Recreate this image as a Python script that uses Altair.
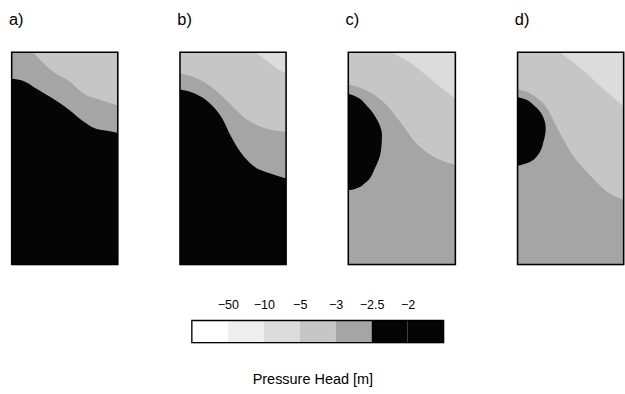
import json

import altair as alt
import pandas as pd

# Pressure-head classes (metres) and their fills, lightest (driest) to darkest (wettest)
CLASS_NAMES = ["< -50", "-50 to -10", "-10 to -5", "-5 to -3", "-3 to -2.5", "-2.5 to -2", "> -2"]
CLASS_COLORS = ["#ffffff", "#efefef", "#dcdcdc", "#c6c6c6", "#a5a5a5", "#050505", "#050505"]
BREAK_LABELS = ["\u221250", "\u221210", "\u22125", "\u22123", "\u22122.5", "\u22122"]

PANEL_TITLES = ["a)", "b)", "c)", "d)"]
DOMAIN_W = 10.0   # horizontal extent of the flow domain
DOMAIN_D = 20.0   # depth of the flow domain

# --- a) class boundaries: depth of each boundary along x
A_WET_X = [0, 1.1, 2.3, 3.8, 5.4, 6.6, 7.7, 9.0, 10]
A_WET_Z = [2.5, 2.7, 3.4, 4.3, 5.4, 6.4, 7.1, 7.4, 7.6]
A_MID_X = [2.0, 3.8, 5.4, 6.8, 8.4, 10]
A_MID_Z = [0, 1.75, 2.7, 3.9, 4.5, 5.0]

# --- b)
B_WET_X = [0, 1.45, 2.7, 3.9, 4.8, 5.7, 6.9, 8.45, 10]
B_WET_Z = [3.5, 3.9, 4.7, 6.1, 7.9, 9.4, 10.7, 11.4, 11.9]
B_MID_X = [0, 1.45, 3.0, 4.55, 6.0, 7.55, 10]
B_MID_Z = [2.0, 2.4, 3.3, 4.7, 6.1, 7.0, 7.5]
B_DRY_X = [7.1, 8.2, 9.1, 10]
B_DRY_Z = [0, 0.8, 1.5, 2.0]

# --- c)
C_MID_X = [0, 1.7, 3.25, 4.8, 6.2, 7.75, 10]
C_MID_Z = [3.0, 3.6, 4.65, 6.5, 8.4, 9.7, 10.6]
C_DRY_X = [4.0, 5.95, 7.9, 10]
C_DRY_Z = [0, 1.1, 2.7, 4.4]
C_BULB_Z = [3.9, 4.1, 5.0, 6.2, 7.8, 9.3, 10.9, 12.3, 12.9, 13.0]
C_BULB_X = [0, 0.55, 1.7, 2.6, 3.15, 3.05, 2.5, 1.6, 0.55, 0]

# --- d)
D_MID_X = [0, 1.55, 2.8, 3.75, 5.2, 6.75, 8.25, 10]
D_MID_Z = [3.45, 4.1, 5.3, 7.15, 9.7, 11.5, 13.0, 13.9]
D_DRY_X = [4.0, 6.3, 8.1, 10]
D_DRY_Z = [0, 1.8, 3.45, 5.1]
D_BULB_Z = [4.2, 4.4, 5.0, 5.95, 7.15, 8.4, 9.7, 10.4, 10.7]
D_BULB_X = [0, 0.65, 1.55, 2.35, 2.65, 2.45, 1.9, 1.0, 0]

PANELS = [
    # (base class, [(class, xs, zs) zones from the surface down], bulb or None)
    (5, [(4, A_WET_X, A_WET_Z), (3, A_MID_X, A_MID_Z)], None),
    (5, [(4, B_WET_X, B_WET_Z), (3, B_MID_X, B_MID_Z), (2, B_DRY_X, B_DRY_Z)], None),
    (4, [(3, C_MID_X, C_MID_Z), (2, C_DRY_X, C_DRY_Z)], (5, C_BULB_X, C_BULB_Z)),
    (4, [(3, D_MID_X, D_MID_Z), (2, D_DRY_X, D_DRY_Z)], (5, D_BULB_X, D_BULB_Z)),
]
PANEL_WIDTHS = [110, 110, 111, 110]

scale_x = alt.Scale(domain=[0, DOMAIN_W], nice=False, zero=False)
scale_z = alt.Scale(domain=[0, DOMAIN_D], nice=False, reverse=True)
fill = alt.Color(
    "cls:N",
    scale=alt.Scale(domain=CLASS_NAMES, range=CLASS_COLORS),
    legend=None,
)


def panel(title, base, zones, bulb, width):
    base_df = pd.DataFrame(
        {"x0": [0.0], "x1": [DOMAIN_W], "z0": [0.0], "z1": [DOMAIN_D], "cls": [CLASS_NAMES[base]]}
    )
    extent = dict(
        x=alt.X("x0:Q", scale=scale_x, axis=None),
        x2="x1",
        y=alt.Y("z0:Q", scale=scale_z, axis=None),
        y2="z1",
    )
    layers = [alt.Chart(base_df).mark_rect().encode(color=fill, **extent)]
    for cls, xs, zs in zones:
        df = pd.DataFrame({"x": xs, "z": zs, "cls": CLASS_NAMES[cls]})
        layers.append(
            alt.Chart(df)
            .mark_area(interpolate="monotone")
            .encode(
                x=alt.X("x:Q", scale=scale_x, axis=None),
                y=alt.Y("z:Q", scale=scale_z, axis=None, stack=None),
                y2=alt.datum(0),
                color=fill,
            )
        )
    if bulb is not None:
        cls, xs, zs = bulb
        df = pd.DataFrame({"x": xs, "z": zs, "cls": CLASS_NAMES[cls]})
        layers.append(
            alt.Chart(df)
            .mark_area(orient="horizontal", interpolate="monotone")
            .encode(
                y=alt.Y("z:Q", scale=scale_z, axis=None),
                x=alt.X("x:Q", scale=scale_x, axis=None, stack=None),
                x2=alt.datum(0),
                color=fill,
            )
        )
    # frame around the domain
    layers.append(
        alt.Chart(base_df)
        .mark_rect(filled=False, stroke="black", strokeWidth=1.6)
        .encode(**extent)
    )
    return alt.layer(*layers).properties(
        width=width,
        height=220,
        title=alt.TitleParams(
            title, anchor="start", font="Liberation Sans", fontSize=17,
            fontWeight="normal", offset=24, dx=-2,
        ),
    )


row = alt.hconcat(
    *[panel(t, b, z, blb, w) for t, (b, z, blb), w in zip(PANEL_TITLES, PANELS, PANEL_WIDTHS)],
    spacing=58.5,
)

# horizontal class bar with the break values written above the boundaries
n = len(CLASS_NAMES)
bar_df = pd.DataFrame({"lo": list(range(n)), "hi": list(range(1, n + 1)), "cls": CLASS_NAMES})
frame_df = pd.DataFrame({"lo": [0], "hi": [n]})
label_expr = json.dumps(BREAK_LABELS) + "[datum.value - 1]"
bar_x = alt.X(
    "lo:Q",
    scale=alt.Scale(domain=[0, n], nice=False, zero=False),
    axis=alt.Axis(
        orient="top", values=list(range(1, n)), labelExpr=label_expr,
        ticks=False, domain=False, grid=False, title=None, labelFont="Liberation Sans",
        labelFontSize=13, labelColor="black", labelPadding=9, labelFlush=False,
    ),
)
colorbar = (
    alt.layer(
        alt.Chart(bar_df).mark_rect().encode(x=bar_x, x2="hi", color=fill),
        alt.Chart(frame_df)
        .mark_rect(filled=False, stroke="black", strokeWidth=1.4)
        .encode(x=alt.X("lo:Q", scale=alt.Scale(domain=[0, n], nice=False, zero=False)), x2="hi"),
    )
    .properties(
        width=261,
        height=23,
        title=alt.TitleParams(
            "Pressure Head  [m]", orient="bottom", font="Liberation Sans", fontSize=15,
            fontWeight="normal", offset=30, dx=-5,
        ),
    )
)

chart = (
    alt.vconcat(row, colorbar, spacing=33, center=True)
    .properties(padding={"left": 8, "top": 3, "right": 0, "bottom": 0})
    .configure_view(stroke=None)
    .configure(background="white")
)

chart.save("out.html", embed_options={"renderer": "svg", "actions": False})
